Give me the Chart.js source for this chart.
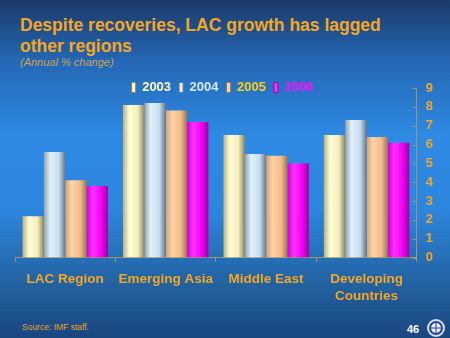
<!DOCTYPE html>
<html>
<head>
<meta charset="utf-8">
<script src="https://cdn.jsdelivr.net/npm/chart.js@4/dist/chart.umd.min.js"></script>
<style>
  html, body { margin: 0; padding: 0; }
  body {
    width: 450px; height: 338px; overflow: hidden; position: relative;
    font-family: "Liberation Sans", Arial, sans-serif;
    background: linear-gradient(to bottom, #1b3a68 0%, #2467b4 18%, #2e8ae4 40%, #2d86de 62%, #22609e 85%, #1a4680 100%);
  }
  .title {
    position: absolute; left: 20px; top: 15px;
    color: #f5a623; font-weight: bold; font-size: 17.5px; line-height: 21px;
  }
  .sub {
    position: absolute; left: 20px; top: 56px;
    color: #c9a35a; font-style: italic; font-size: 11px;
  }
  .src {
    position: absolute; left: 22px; top: 322px;
    color: #e8a020; font-size: 8.5px;
  }
  .page {
    position: absolute; left: 407px; top: 323px;
    color: #ffffff; font-weight: bold; font-size: 11px;
  }
  #wrap { position: absolute; left: 0; top: 57px; width: 450px; height: 261px; }
</style>
</head>
<body>
<div class="title">Despite recoveries, LAC growth has lagged<br>other regions</div>
<div class="sub">(Annual % change)</div>
<div id="wrap"><canvas id="growthChart"></canvas></div>
<div class="src">Source: IMF staff.</div>
<div class="page">46</div>
<canvas id="seal" width="20" height="20" style="position:absolute;left:426px;top:318px;"></canvas>
<script>
const regions = ['LAC Region', 'Emerging Asia', 'Middle East', ['Developing', 'Countries']];
const years = ['2003', '2004', '2005', '2006'];
const growth2003 = [2.2, 8.1, 6.5, 6.5];
const growth2004 = [5.6, 8.2, 5.5, 7.3];
const growth2005 = [4.1, 7.8, 5.4, 6.4];
const growth2006 = [3.8, 7.2, 5.0, 6.1];
const yTicks = [0, 1, 2, 3, 4, 5, 6, 7, 8, 9];

// cylinder shading per series: [left edge, highlight, body, right edge]
const shades = [
  ['#b8b284', '#fffed6', '#f2eebc', '#8c8660'],
  ['#8fa2b0', '#e2f2fc', '#c6def0', '#66788a'],
  ['#c8a47e', '#fed2a6', '#f4bc8a', '#9c7654'],
  ['#d000d8', '#ff30ff', '#f000f4', '#9a009c']
];
const legendText = ['#fffcc4', '#d4ecfc', '#ffcc1a', '#ff10ff'];

const cylinderBars = {
  id: 'cylinderBars',
  afterLayout(chart) {
    // drop the legend onto the top edge of the plot, level with the "9" label
    const lg = chart.legend;
    const dy = 16, dx = -6;
    lg.top += dy; lg.bottom += dy;
    lg.left += dx; lg.right += dx;
    (lg.legendHitBoxes || []).forEach(h => { h.top += dy; h.left += dx; });
  },
  beforeDatasetsDraw(chart) {
    // give each bar its own left-to-right gradient
    const ctx = chart.ctx;
    chart.data.datasets.forEach((ds, i) => {
      const s = shades[i];
      chart.getDatasetMeta(i).data.forEach(bar => {
        const x0 = bar.x - bar.width / 2;
        const g = ctx.createLinearGradient(x0, 0, x0 + bar.width, 0);
        g.addColorStop(0, s[0]);
        g.addColorStop(0.3, s[1]);
        g.addColorStop(0.7, s[2]);
        g.addColorStop(1, s[3]);
        bar.options = Object.assign({}, bar.options, { backgroundColor: g });
      });
    });
  },
  afterDraw(chart) {
    // small inward ticks on the right-hand value axis
    const y = chart.scales.y;
    const ctx = chart.ctx;
    ctx.save();
    ctx.strokeStyle = '#9a9870';
    ctx.lineWidth = 1;
    yTicks.forEach(v => {
      const py = Math.round(y.getPixelForValue(v)) + 0.5;
      ctx.beginPath();
      ctx.moveTo(y.left - 4, py);
      ctx.lineTo(y.left, py);
      ctx.stroke();
    });
    ctx.restore();
  }
};

const series = [growth2003, growth2004, growth2005, growth2006];

new Chart(document.getElementById('growthChart'), {
  type: 'bar',
  data: {
    labels: regions,
    datasets: years.map((yr, i) => ({
      label: yr,
      data: series[i],
      backgroundColor: shades[i][2],
      borderWidth: 0,
      categoryPercentage: 0.85,
      barPercentage: 1.0
    }))
  },
  options: {
    responsive: true,
    maintainAspectRatio: false,
    animation: false,
    layout: { padding: { left: 15, right: 8, top: 0, bottom: 4 } },
    plugins: {
      tooltip: { enabled: false },
      legend: {
        position: 'top',
        align: 'center',
        labels: {
          boxWidth: 4,
          boxHeight: 10,
          padding: 8,
          font: { family: 'Liberation Sans', size: 13, weight: 'bold' },
          generateLabels(chart) {
            return chart.data.datasets.map((ds, i) => ({
              text: ds.label,
              fillStyle: shades[i][1],
              strokeStyle: shades[i][3],
              lineWidth: 1,
              fontColor: legendText[i],
              datasetIndex: i
            }));
          }
        }
      }
    },
    scales: {
      x: {
        grid: {
          display: true,
          drawOnChartArea: false,
          drawTicks: true,
          tickLength: 4,
          color: '#9a9870',
          offset: true
        },
        border: { display: true, color: '#9a9870', width: 1 },
        ticks: {
          color: '#f5a623',
          padding: 10,
          maxRotation: 0,
          font: { family: 'Liberation Sans', size: 13.5, weight: 'bold' }
        }
      },
      y: {
        position: 'right',
        min: 0,
        max: 9,
        afterBuildTicks(scale) { scale.ticks = yTicks.map(v => ({ value: v })); },
        grid: { display: false, drawTicks: false },
        border: { display: true, color: '#9a9870', width: 1 },
        ticks: {
          color: '#f5a623',
          padding: 9,
          autoSkip: false,
          font: { family: 'Liberation Sans', size: 13, weight: 'bold' }
        }
      }
    }
  },
  plugins: [cylinderBars]
});

// simple round emblem next to the page number
(function () {
  const c = document.getElementById('seal').getContext('2d');
  c.fillStyle = '#d8dce4';
  c.beginPath(); c.arc(10, 10, 9, 0, Math.PI * 2); c.fill();
  c.fillStyle = '#1e4c88';
  c.beginPath(); c.arc(10, 10, 7, 0, Math.PI * 2); c.fill();
  c.fillStyle = '#e8ecf2';
  c.beginPath(); c.arc(10, 10, 5, 0, Math.PI * 2); c.fill();
  c.strokeStyle = '#1e4c88'; c.lineWidth = 1;
  c.beginPath(); c.moveTo(5, 10); c.lineTo(15, 10); c.moveTo(10, 5); c.lineTo(10, 15); c.stroke();
})();
</script>
</body>
</html>
